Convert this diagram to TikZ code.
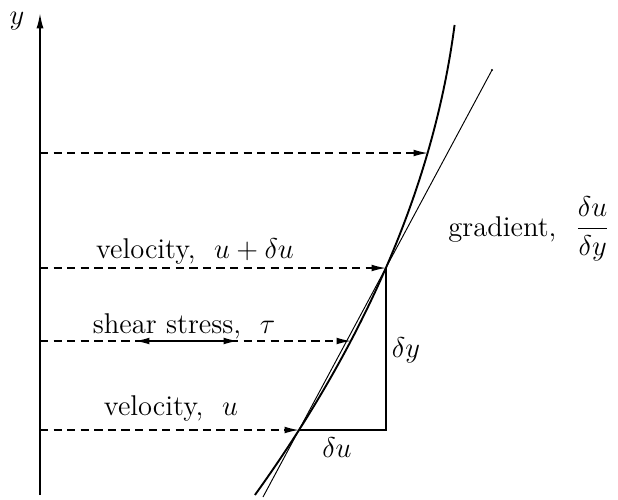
\documentclass[tikz,border=0pt]{standalone}
\usepackage{amsmath}
\usetikzlibrary{arrows.meta}

\begin{document}
\begin{tikzpicture}[x=0.42pt, y=-0.42pt, every node/.style={font=\large},
    flow/.style={-{Latex[length=6pt,width=2.8pt]}, dashed, dash pattern=on 3.5pt off 2.2pt, semithick},
    tip/.style={-{Latex[length=6.5pt,width=3pt]}}]
        \useasboundingbox (0,0) rectangle (618,499);

        % Points on the profile
        \coordinate (base) at (40,495);
        \coordinate (top) at (40,13);
        \coordinate (P1) at (299,430);
        \coordinate (P2) at (386,268);
        \coordinate (corner) at (386,430);
        \coordinate (C2) at (351,341);
        \coordinate (C3) at (428,153);
        \coordinate (chordlo) at (263,497);
        \coordinate (chordhi) at (492,70);
        \coordinate (A0) at (40,153);
        \coordinate (A1) at (40,268);
        \coordinate (A2) at (40,341);
        \coordinate (A3) at (40,430);
        \coordinate (T1) at (135,341);
        \coordinate (T2) at (238,341);

        % Axis
        \draw[thick, tip] (base) -- (top);
        \node (ylab) at (17,21) {$y$};

        % Velocity profile and chord
        \draw[thick] plot[domain=-65:405, samples=80] ({299+0.6375*\x-0.00062*\x*\x},{430-\x});
        \draw[thin] (chordlo) -- (chordhi);
        \fill (chordhi) circle (1.2);

        % Triangle
        \draw[thick] (P1) -- (corner) -- (P2);
        \node (du) at (337,448) {$\delta u$};
        \node (dy) at (406,350) {$\delta y$};

        % Dashed arrows
        \draw[flow] (A0) -- (C3);
        \draw[flow] (A1) -- (P2);
        \draw[flow] (A2) -- (C2);
        \draw[flow] (A3) -- (P1);
        \draw[semithick, {Latex[length=6pt,width=2.8pt]}-{Latex[length=6pt,width=2.8pt]}] (T1) -- (T2);

        % Labels
        \node[anchor=base] (lab1) at (195,258) {velocity,\ \ $u+\delta u$};
        \node[anchor=base] (lab2) at (184,333) {shear stress,\ \ $\tau$};
        \node[anchor=base] (lab3) at (171,415) {velocity,\ \ $u$};
        \node[anchor=west] (grad) at (440,229) {gradient,\ \ $\dfrac{\delta u}{\delta y}$};
    \end{tikzpicture}
\end{document}
